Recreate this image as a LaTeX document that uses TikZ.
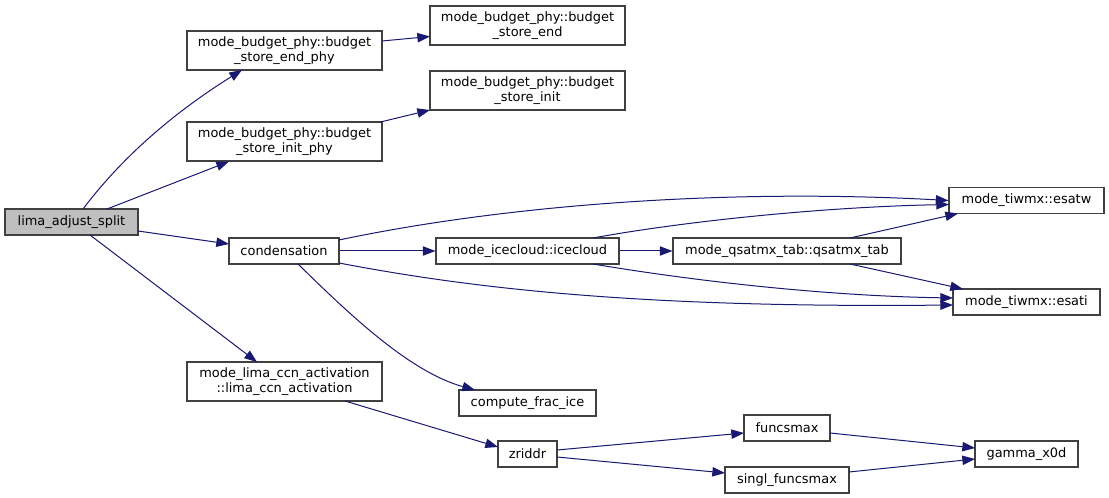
\documentclass[tikz,border=0pt]{standalone}
\usepackage{fontspec}
\setmainfont{DejaVu Sans}
\usetikzlibrary{arrows.meta,calc}
\definecolor{edgeblue}{RGB}{25,25,112}
\definecolor{boxline}{RGB}{64,64,64}
\definecolor{boxgray}{RGB}{191,191,191}
\tikzset{
	fn/.style={draw=boxline,line width=.8pt,fill=white,inner sep=0pt,align=center,
		minimum height=19.5pt,font=\fontsize{9.7}{10.7}\selectfont},
	fn2/.style={fn,minimum height=29.25pt},
	call/.style={draw=edgeblue,line width=.75pt,-{Triangle[length=9.5pt,width=7pt]}}
}
\begin{document}
\begin{tikzpicture}[x=.75pt,y=-.75pt]
	\useasboundingbox(0,0)rectangle(1109,498);
	% left column
	\node[fn,fill=boxgray,minimum width=99.75pt](lima)at(71.5,222){lima\_adjust\_split};
	% callees of lima_adjust_split
	\node[fn2,minimum width=146.25pt](bsep)at(284.5,50.5){mode\_budget\_phy::budget\\\_store\_end\_phy};
	\node[fn2,minimum width=146.25pt](bsip)at(284.5,141.5){mode\_budget\_phy::budget\\\_store\_init\_phy};
	\node[fn,minimum width=82.5pt](cond)at(284,251){condensation};
	\node[fn2,minimum width=146.25pt](ccn)at(284.5,381.5){mode\_lima\_ccn\_activation\\::lima\_ccn\_activation};
	% third column
	\node[fn2,minimum width=146.25pt](bse)at(527.5,25.5){mode\_budget\_phy::budget\\\_store\_end};
	\node[fn2,minimum width=146.25pt](bsi)at(527.5,90.5){mode\_budget\_phy::budget\\\_store\_init};
	\node[fn,minimum width=137.25pt](ice)at(527.5,251){mode\_icecloud::icecloud};
	\node[fn,minimum width=102.75pt](frac)at(527.5,403){compute\_frac\_ice};
	\node[fn,minimum width=44.25pt](zriddr)at(527.5,454){zriddr};
	% fourth column
	\node[fn,minimum width=171pt](qsat)at(787,251){mode\_qsatmx\_tab::qsatmx\_tab};
	\node[fn,minimum width=64.5pt](funcsmax)at(787,428){funcsmax};
	\node[fn,minimum width=93pt](singl)at(787,480){singl\_funcsmax};
	% last column
	\node[fn,minimum width=116.25pt](esatw)at(1026.5,200.5){mode\_tiwmx::esatw};
	\node[fn,minimum width=110.25pt](esati)at(1026.5,302){mode\_tiwmx::esati};
	\node[fn,minimum width=77.25pt](gamma)at(1026.5,454){gamma\_x0d};
	% calls
	\draw[call]($(lima)+(11.5,-13)$)..controls(120,160)and(170,115)..($(bsep)+(-42.5,19.5)$);
	\draw[call]($(lima)+(35.5,-13)$)--($(bsip)+(-55.5,20)$);
	\draw[call]($(lima)+(66.5,9)$)--($(cond)+(-55,-7)$);
	\draw[call]($(lima)+(18.5,13)$)--($(ccn)+(-27.5,-19.5)$);
	\draw[call]($(bsep)+(97.5,-9.5)$)--($(bse)+(-97.5,11)$);
	\draw[call]($(bsip)+(96,-19.5)$)--($(bsi)+(-97.5,19.5)$);
	\draw[call]($(cond)+(55,-11)$)..controls(500,206)and(720,188)..(esatw.west);
	\draw[call](cond.east)--(ice.west);
	\draw[call]($(cond)+(55,12)$)..controls(480,290)and(650,308)..($(esati)+(-73.5,3)$);
	\draw[call]($(cond)+(14,13)$)..controls(350,315)and(410,372)..($(frac)+(-52.5,-13)$);
	\draw[call]($(ice)+(65.5,-13)$)..controls(680,222)and(820,207)..($(esatw)+(-77.5,4)$);
	\draw[call](ice.east)--(qsat.west);
	\draw[call]($(ice)+(65.5,13)$)..controls(700,282)and(830,296)..($(esati)+(-73.5,-4)$);
	\draw[call]($(qsat)+(63,-13)$)--($(esatw)+(-68.5,13)$);
	\draw[call]($(qsat)+(63,13)$)--($(esati)+(-63.5,-13)$);
	\draw[call]($(ccn)+(60.5,19.5)$)--($(zriddr)+(-29.5,-7)$);
	\draw[call]($(zriddr)+(29.5,-4)$)--($(funcsmax)+(-43,5)$);
	\draw[call]($(zriddr)+(29.5,3)$)--($(singl)+(-62,-7)$);
	\draw[call]($(funcsmax)+(43,5)$)--($(gamma)+(-51.5,-6)$);
	\draw[call]($(singl)+(62,-8)$)--($(gamma)+(-51.5,5)$);
\end{tikzpicture}
\end{document}
